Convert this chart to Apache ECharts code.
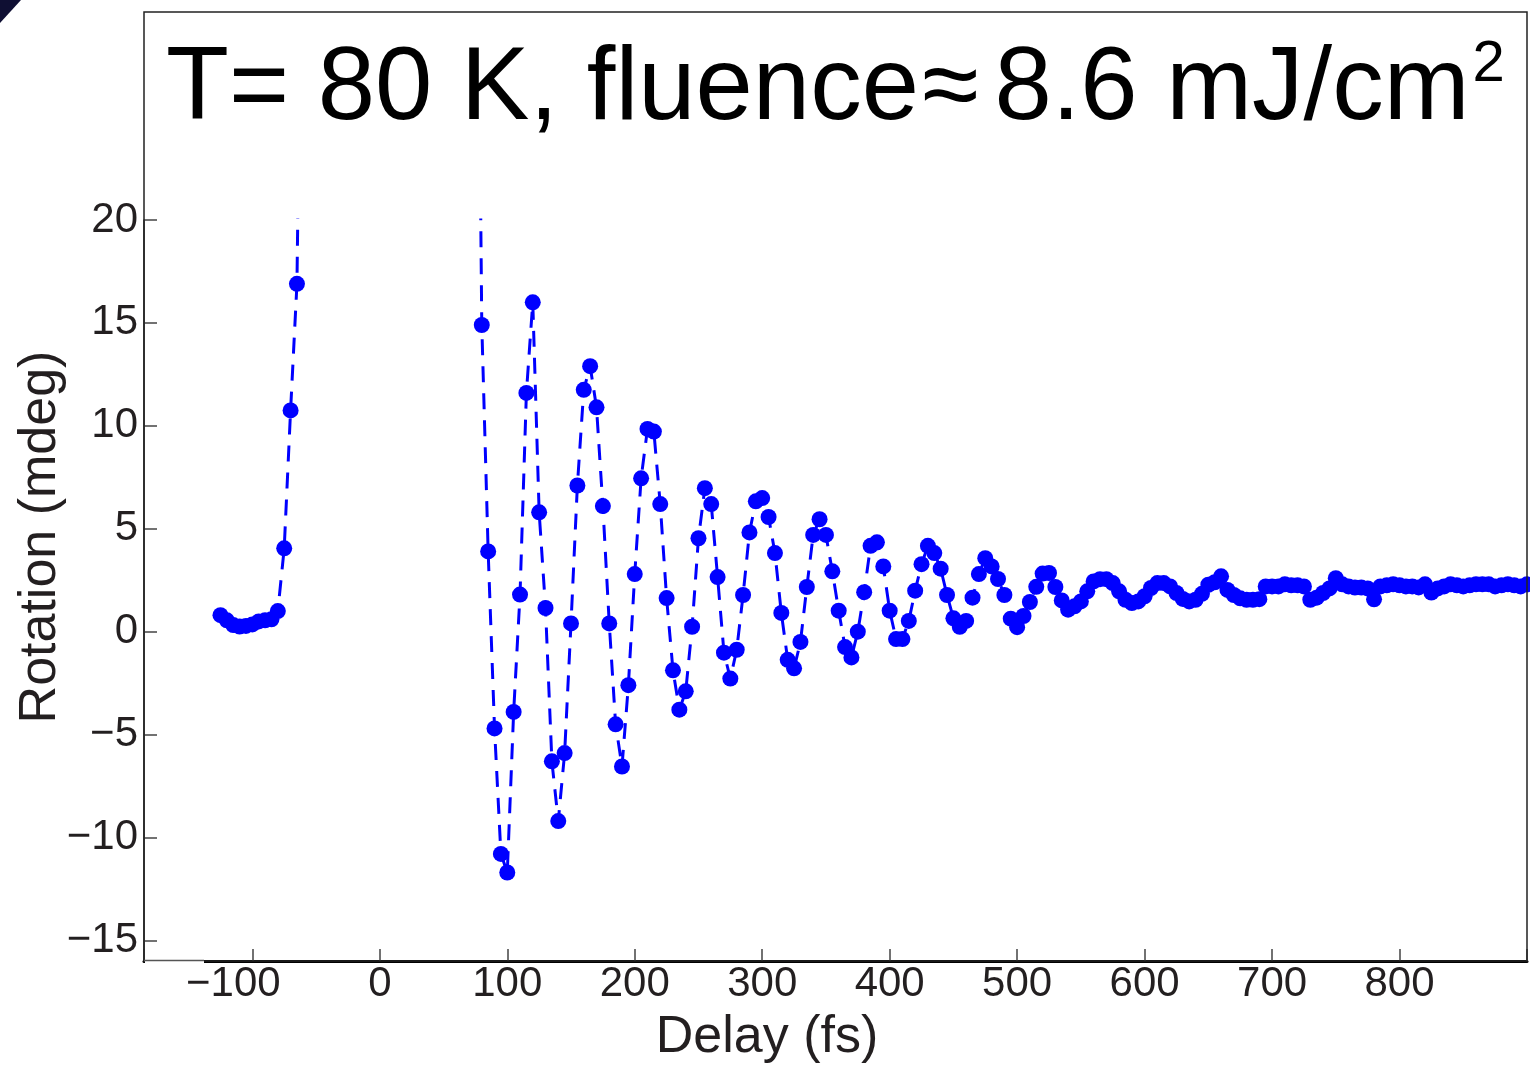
<!DOCTYPE html>
<html>
<head>
<meta charset="utf-8">
<script src="https://cdn.jsdelivr.net/npm/echarts@6/dist/echarts.min.js"></script>
<style>
html,body{margin:0;padding:0;background:#fff;}
#chart{width:1530px;height:1066px;}
</style>
</head>
<body>
<div id="chart"></div>
<script>
// Delay (fs) and rotation (mdeg) before the off-scale region
var preDelay = [-125,-120,-115,-110,-105,-100,-95,-90,-85,-80,-75,-70,-65,-60];
var preRotation = [0.8,0.55,0.32,0.25,0.28,0.35,0.5,0.55,0.6,1.0,4.05,10.75,16.9,42];

// Delay (fs) and rotation (mdeg) after the off-scale region
var postDelay = [75,80,85,90,95,100,105,110,115,120,125,130,135,140,145,150,155,160,165,170,
  175,180,185,190,195,200,205,210,215,220,225,230,235,240,245,250,255,260,265,270,
  275,280,285,290,295,300,305,310,315,320,325,330,335,340,345,350,355,360,365,370,
  375,380,385,390,395,400,405,410,415,420,425,430,435,440,445,450,455,460,465,470,
  475,480,485,490,495,500,505,510,515,520,525,530,535,540,545,550,555,560,565,570,
  575,580,585,590,595,600,605,610,615,620,625,630,635,640,645,650,655,660,665,670,
  675,680,685,690,695,700,705,710,715,720,725,730,735,740,745,750,755,760,765,770,
  775,780,785,790,795,800,805,810,815,820,825,830,835,840,845,850,855,860,865,870,
  875,880,885,890,895,900];
var postRotation = [47,14.9,3.9,-4.7,-10.8,-11.7,-3.9,1.8,11.6,16.0,5.8,1.15,-6.3,-9.2,-5.9,0.4,7.1,11.75,12.9,10.9,
  6.1,0.4,-4.5,-6.55,-2.6,2.8,7.45,9.85,9.72,6.2,1.63,-1.88,-3.79,-2.9,0.24,4.54,6.97,6.2,2.65,-1.02,
  -2.28,-0.88,1.78,4.82,6.33,6.49,5.57,3.82,0.91,-1.37,-1.78,-0.5,2.17,4.7,5.46,4.7,2.93,1.02,-0.75,-1.25,
  0.0,1.92,4.17,4.34,3.17,1.02,-0.36,-0.36,0.52,1.99,3.28,4.17,3.82,3.06,1.78,0.65,0.24,0.52,1.65,2.8,
  3.57,3.17,2.56,1.78,0.63,0.22,0.76,1.44,2.18,2.82,2.85,2.17,1.52,1.07,1.23,1.47,1.96,2.44,2.55,2.55,
  2.36,1.96,1.55,1.39,1.47,1.72,2.12,2.36,2.36,2.2,1.88,1.59,1.47,1.55,1.84,2.28,2.4,2.69,2.03,1.78,
  1.62,1.55,1.55,1.58,2.2,2.2,2.2,2.3,2.25,2.25,2.2,1.55,1.65,1.88,2.1,2.6,2.3,2.2,2.14,2.14,
  2.1,1.57,2.2,2.25,2.3,2.25,2.2,2.2,2.15,2.3,1.9,2.1,2.2,2.3,2.25,2.2,2.25,2.3,2.3,2.3,
  2.2,2.25,2.3,2.25,2.2,2.3];

var xTicks = [-100,0,100,200,300,400,500,600,700,800];
var yTicks = [-15,-10,-5,0,5,10,15,20];

var titleLeft = 'T= 80 K, fluence';
var titleApprox = '\u2248';
var titleRight = '8.6 mJ/cm';
var titleSup = '2';
var xName = 'Delay (fs)';
var yName = 'Rotation (mdeg)';

var FONT = '"Liberation Sans", Arial, Helvetica, sans-serif';
var TXT = '#231f20';
var BLUE = '#0000ff';

function pairs(xs, ys){ return xs.map(function(x,i){ return [x, ys[i]]; }); }
function minus(v){ return v < 0 ? '\u2212' + Math.abs(v) : String(v); }

var chart = echarts.init(document.getElementById('chart'), null, {renderer:'canvas'});

var seriesStyle = {
  type: 'line',
  symbol: 'circle',
  symbolSize: 16,
  clip: true,
  itemStyle: {color: BLUE},
  lineStyle: {color: BLUE, width: 3, type: [16, 11]},
  emphasis: {disabled: true},
  animation: false
};

chart.setOption({
  animation: false,
  backgroundColor: '#fff',
  grid: {left: 144, right: 3, top: 220, bottom: 105, containLabel: false},
  xAxis: {
    type: 'value', min: -185, max: 900, splitNumber: 10,
    axisLine: {show: true, onZero: false, lineStyle: {color: '#000', width: 3}},
    axisTick: {show: true, inside: true, length: 12, lineStyle: {color: '#444', width: 1.5}},
    axisLabel: {
      fontSize: 42, color: TXT, fontFamily: FONT, margin: 2,
      formatter: function(v){
        if (xTicks.indexOf(v) < 0) return '';
        return v < 0 ? '{n|' + minus(v) + '}' : String(v);
      },
      rich: {n: {fontSize: 42, color: TXT, fontFamily: FONT, padding: [0, 38, 0, 0]}}
    },
    splitLine: {show: false}
  },
  yAxis: {
    type: 'value', min: -16, max: 20, splitNumber: 7,
    axisLine: {show: true, onZero: false, lineStyle: {color: '#222', width: 1.5}},
    axisTick: {show: true, inside: true, length: 13, lineStyle: {color: '#444', width: 1.5}},
    axisLabel: {
      fontSize: 42, color: TXT, fontFamily: FONT, margin: 6, showMaxLabel: true,
      formatter: function(v){ return yTicks.indexOf(v) < 0 ? '' : minus(v); }
    },
    splitLine: {show: false}
  },
  series: [
    Object.assign({}, seriesStyle, {name: 'pre', data: pairs(preDelay, preRotation)}),
    Object.assign({}, seriesStyle, {name: 'post', data: pairs(postDelay, postRotation)})
  ],
  graphic: [
    {type: 'rect', silent: true, z: 100,
     shape: {x: 144, y: 12, width: 1383, height: 949},
     style: {fill: 'none', stroke: '#222', lineWidth: 1.5}},
    {type: 'line', silent: true, z: 101,
     shape: {x1: 145, y1: 961, x2: 204, y2: 961},
     style: {stroke: '#fff', lineWidth: 4}},
    {type: 'line', silent: true, z: 102,
     shape: {x1: 144, y1: 960.5, x2: 204, y2: 960.5},
     style: {stroke: '#555', lineWidth: 1.5}},
    {type: 'polygon', silent: true,
     shape: {points: [[0,0],[21,0],[0,23]]},
     style: {fill: '#0f0f33'}},
    {type: 'text', silent: true, left: 166, top: 36,
     style: {
       text: '{a|' + titleLeft + '}{b|' + titleApprox + '}{a|' + titleRight + '}{s|' + titleSup + '}',
       rich: {
         a: {fontSize: 103, fontFamily: FONT, fill: '#000', lineHeight: 110},
         b: {fontSize: 103, fontFamily: FONT, fill: '#000', lineHeight: 110, padding: [0, 16, 0, 3]},
         s: {fontSize: 58, fontFamily: FONT, fill: '#000', lineHeight: 96, verticalAlign: 'top', padding: [0, 0, 0, 3]}
       }
     }},
    {type: 'text', silent: true, x: 767, y: 1038,
     style: {text: xName, fontSize: 52, fontFamily: FONT, fill: TXT, align: 'center', verticalAlign: 'middle'}},
    {type: 'text', silent: true, x: 41, y: 537, rotation: Math.PI / 2,
     style: {text: yName, fontSize: 52, fontFamily: FONT, fill: TXT, align: 'center', verticalAlign: 'middle'}}
  ]
});
</script>
</body>
</html>
